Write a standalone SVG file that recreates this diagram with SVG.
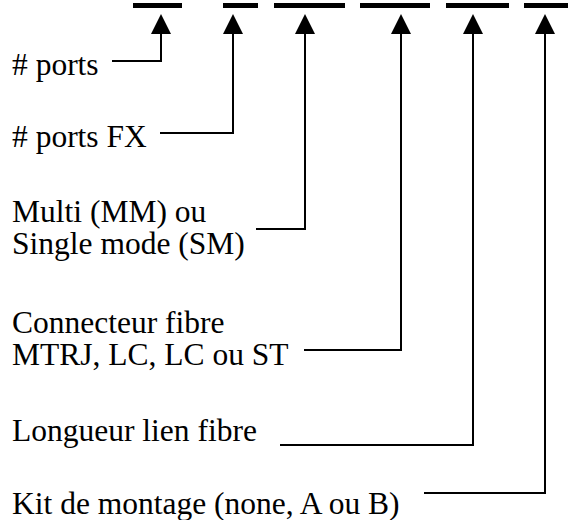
<svg xmlns="http://www.w3.org/2000/svg" width="568" height="520" viewBox="0 0 568 520">
<style>
.bar{fill:#000}
.lbl{font-family:"Liberation Serif","Times New Roman",serif;font-size:31.5px;fill:#000}
.ln{fill:none;stroke:#000;stroke-width:2}
.ah{fill:#000}
</style>
<rect width="568" height="520" fill="#fff"/>
<g id="bars">
<rect class="bar" x="133" y="3" width="49" height="5"/>
<rect class="bar" x="223" y="3" width="35" height="5"/>
<rect class="bar" x="274" y="3" width="71" height="5"/>
<rect class="bar" x="360" y="3" width="70" height="5"/>
<rect class="bar" x="446" y="3" width="63" height="5"/>
<rect class="bar" x="524" y="3" width="44" height="5"/>
</g>
<g id="connectors">
<polyline class="ln" points="112,61 161,61 161,32"/>
<polyline class="ln" points="160,133 233,133 233,32"/>
<polyline class="ln" points="256,229 305,229 305,32"/>
<polyline class="ln" points="304,350 401,350 401,32"/>
<polyline class="ln" points="280,445 473,445 473,32"/>
<polyline class="ln" points="424,493 545,493 545,32"/>
<polygon class="ah" points="161,14 151,34 171,34"/>
<polygon class="ah" points="233,14 223,34 243,34"/>
<polygon class="ah" points="305,14 295,34 315,34"/>
<polygon class="ah" points="401,14 391,34 411,34"/>
<polygon class="ah" points="473,14 463,34 483,34"/>
<polygon class="ah" points="545,14 535,34 555,34"/>
</g>
<g id="n1"><text class="lbl" x="12" y="75"># ports</text></g>
<g id="n2"><text class="lbl" x="12" y="147"># ports FX</text></g>
<g id="n3"><text class="lbl" x="12" y="222">Multi (MM) ou</text><text class="lbl" x="12" y="254">Single mode (SM)</text></g>
<g id="n4"><text class="lbl" x="12" y="333">Connecteur fibre</text><text class="lbl" x="12" y="365">MTRJ, LC, LC ou ST</text></g>
<g id="n5"><text class="lbl" x="12" y="441">Longueur lien fibre</text></g>
<g id="n6"><text class="lbl" x="12" y="514">Kit de montage (none, A ou B)</text></g>
</svg>
